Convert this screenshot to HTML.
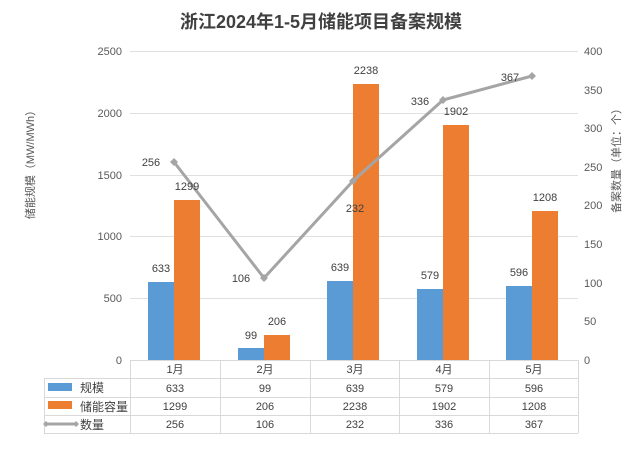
<!DOCTYPE html>
<html><head><meta charset="utf-8"><style>
body{margin:0;background:#fff}
svg{display:block}
text{font-family:"Liberation Sans","Noto Sans CJK SC",sans-serif;}
</style></head><body>
<svg width="640" height="449" viewBox="0 0 640 449" xmlns="http://www.w3.org/2000/svg">
<rect width="640" height="449" fill="#fff"/>
<text x="321" y="28" text-anchor="middle" font-size="18" font-weight="bold" fill="#404040">浙江2024年1-5月储能项目备案规模</text>
<g stroke="#e0e0e0" stroke-width="1">
<line x1="130" y1="51.5" x2="578" y2="51.5"/>
<line x1="130" y1="113.5" x2="578" y2="113.5"/>
<line x1="130" y1="175.5" x2="578" y2="175.5"/>
<line x1="130" y1="236.5" x2="578" y2="236.5"/>
<line x1="130" y1="298.5" x2="578" y2="298.5"/>
</g>
<g font-size="11" fill="#595959" text-anchor="end">
<text x="122" y="55">2500</text><text x="122" y="117">2000</text><text x="122" y="179">1500</text><text x="122" y="240">1000</text><text x="122" y="302">500</text><text x="122" y="364">0</text>
</g>
<g font-size="11" fill="#595959">
<text x="584" y="55">400</text><text x="584" y="94">350</text><text x="584" y="132">300</text><text x="584" y="171">250</text><text x="584" y="209">200</text><text x="584" y="248">150</text><text x="584" y="287">100</text><text x="584" y="325">50</text><text x="584" y="364">0</text>
</g>
<text transform="translate(34,162) rotate(-90)" text-anchor="middle" font-size="11" fill="#595959">储能规模（MW/MWh）</text>
<text transform="translate(620,158) rotate(-90)" text-anchor="middle" font-size="11" fill="#595959">备案数量（单位：个）</text>
<g fill="#5b9bd5">
<rect x="148" y="282" width="26" height="78"/>
<rect x="238" y="348" width="26" height="12"/>
<rect x="327" y="281" width="26" height="79"/>
<rect x="417" y="289" width="26" height="71"/>
<rect x="506" y="286" width="26" height="74"/>
</g>
<g fill="#ed7d31">
<rect x="174" y="200" width="26" height="160"/>
<rect x="264" y="335" width="26" height="25"/>
<rect x="353" y="84" width="26" height="276"/>
<rect x="443" y="125" width="26" height="235"/>
<rect x="532" y="211" width="26" height="149"/>
</g>
<polyline points="174,162 264,278 353,181 443,100 532,76" fill="none" stroke="#a5a5a5" stroke-width="3"/>
<g fill="#a5a5a5">
<path d="M174,158 l4,4 -4,4 -4,-4z"/><path d="M264,274 l4,4 -4,4 -4,-4z"/><path d="M353,177 l4,4 -4,4 -4,-4z"/><path d="M443,96 l4,4 -4,4 -4,-4z"/><path d="M532,72 l4,4 -4,4 -4,-4z"/>
</g>
<g font-size="11" fill="#404040" text-anchor="middle">
<text x="161" y="272">633</text><text x="187" y="190">1299</text>
<text x="251" y="339">99</text><text x="277" y="325">206</text>
<text x="340" y="271">639</text><text x="366" y="74">2238</text>
<text x="430" y="279">579</text><text x="456" y="115">1902</text>
<text x="519" y="276">596</text><text x="545" y="201">1208</text>
<text x="151" y="166">256</text><text x="241" y="282">106</text><text x="355" y="212">232</text><text x="420" y="105">336</text><text x="510" y="81">367</text>
</g>
<g stroke="#d9d9d9" stroke-width="1" fill="none">
<line x1="130" y1="360.5" x2="578" y2="360.5"/>
<line x1="44" y1="378.5" x2="578" y2="378.5"/>
<line x1="44" y1="397.5" x2="578" y2="397.5"/>
<line x1="44" y1="415.5" x2="578" y2="415.5"/>
<line x1="44" y1="433.5" x2="578" y2="433.5"/>
<line x1="44.5" y1="378" x2="44.5" y2="433"/>
<line x1="130.5" y1="360" x2="130.5" y2="433"/>
<line x1="220.5" y1="360" x2="220.5" y2="433"/>
<line x1="310.5" y1="360" x2="310.5" y2="433"/>
<line x1="399.5" y1="360" x2="399.5" y2="433"/>
<line x1="489.5" y1="360" x2="489.5" y2="433"/>
<line x1="578.5" y1="360" x2="578.5" y2="433"/>
</g>
<rect x="48" y="383" width="24" height="8" fill="#5b9bd5"/>
<rect x="48" y="401" width="24" height="8" fill="#ed7d31"/>
<line x1="46" y1="424" x2="76" y2="424" stroke="#a5a5a5" stroke-width="3"/>
<path d="M46,421 l3,3 -3,3 -3,-3z M76,421 l3,3 -3,3 -3,-3z" fill="#a5a5a5"/>
<g font-size="12" fill="#404040">
<text x="80" y="392">规模</text><text x="80" y="411">储能容量</text><text x="80" y="429">数量</text>
</g>
<g font-size="11" fill="#404040" text-anchor="middle">
<text x="175" y="373">1月</text><text x="265" y="373">2月</text><text x="355" y="373">3月</text><text x="444" y="373">4月</text><text x="534" y="373">5月</text>
<text x="175" y="392">633</text><text x="265" y="392">99</text><text x="355" y="392">639</text><text x="444" y="392">579</text><text x="534" y="392">596</text>
<text x="175" y="410">1299</text><text x="265" y="410">206</text><text x="355" y="410">2238</text><text x="444" y="410">1902</text><text x="534" y="410">1208</text>
<text x="175" y="428">256</text><text x="265" y="428">106</text><text x="355" y="428">232</text><text x="444" y="428">336</text><text x="534" y="428">367</text>
</g>
</svg>
</body></html>
